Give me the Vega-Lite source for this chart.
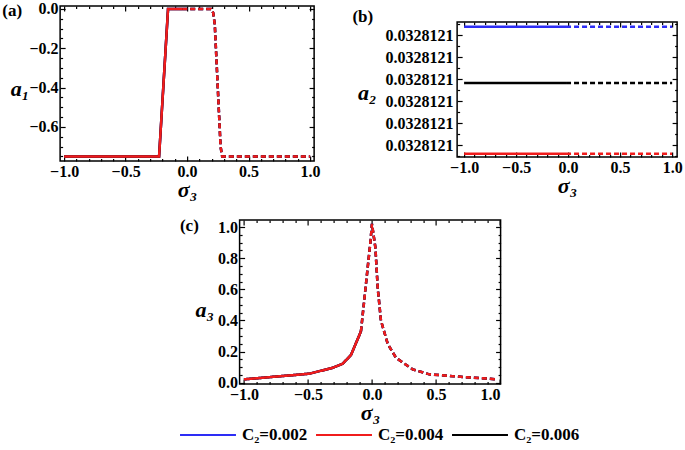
{
  "$schema": "https://vega.github.io/schema/vega-lite/v6.json",
  "padding": {"left": 1, "top": 0, "right": 0, "bottom": 0},
  "background": "white",
  "datasets": {
    "a1": [
      {"C2": "0.002", "s": -1.0, "v": -0.75, "seg": "solid"},
      {"C2": "0.002", "s": -0.228, "v": -0.75, "seg": "solid"},
      {"C2": "0.002", "s": -0.155, "v": 0.0, "seg": "solid"},
      {"C2": "0.002", "s": -0.04, "v": 0.0, "seg": "solid"},
      {"C2": "0.002", "s": -0.04, "v": 0.0, "seg": "dashed"},
      {"C2": "0.002", "s": 0.195, "v": 0.0, "seg": "dashed"},
      {"C2": "0.002", "s": 0.212, "v": -0.02, "seg": "dashed"},
      {"C2": "0.002", "s": 0.225, "v": -0.08, "seg": "dashed"},
      {"C2": "0.002", "s": 0.272, "v": -0.7, "seg": "dashed"},
      {"C2": "0.002", "s": 0.285, "v": -0.75, "seg": "dashed"},
      {"C2": "0.002", "s": 1.0, "v": -0.75, "seg": "dashed"},
      {"C2": "0.006", "s": -1.0, "v": -0.75, "seg": "solid"},
      {"C2": "0.006", "s": -0.228, "v": -0.75, "seg": "solid"},
      {"C2": "0.006", "s": -0.155, "v": 0.0, "seg": "solid"},
      {"C2": "0.006", "s": -0.04, "v": 0.0, "seg": "solid"},
      {"C2": "0.006", "s": -0.04, "v": 0.0, "seg": "dashed"},
      {"C2": "0.006", "s": 0.195, "v": 0.0, "seg": "dashed"},
      {"C2": "0.006", "s": 0.212, "v": -0.02, "seg": "dashed"},
      {"C2": "0.006", "s": 0.225, "v": -0.08, "seg": "dashed"},
      {"C2": "0.006", "s": 0.272, "v": -0.7, "seg": "dashed"},
      {"C2": "0.006", "s": 0.285, "v": -0.75, "seg": "dashed"},
      {"C2": "0.006", "s": 1.0, "v": -0.75, "seg": "dashed"},
      {"C2": "0.004", "s": -1.0, "v": -0.75, "seg": "solid"},
      {"C2": "0.004", "s": -0.228, "v": -0.75, "seg": "solid"},
      {"C2": "0.004", "s": -0.155, "v": 0.0, "seg": "solid"},
      {"C2": "0.004", "s": -0.04, "v": 0.0, "seg": "solid"},
      {"C2": "0.004", "s": -0.04, "v": 0.0, "seg": "dashed"},
      {"C2": "0.004", "s": 0.195, "v": 0.0, "seg": "dashed"},
      {"C2": "0.004", "s": 0.212, "v": -0.02, "seg": "dashed"},
      {"C2": "0.004", "s": 0.225, "v": -0.08, "seg": "dashed"},
      {"C2": "0.004", "s": 0.272, "v": -0.7, "seg": "dashed"},
      {"C2": "0.004", "s": 0.285, "v": -0.75, "seg": "dashed"},
      {"C2": "0.004", "s": 1.0, "v": -0.75, "seg": "dashed"}
    ],
    "a2": [
      {"C2": "0.002", "s": -1.0, "v": 0.03281210638, "seg": "solid"},
      {"C2": "0.002", "s": -0.02, "v": 0.03281210638, "seg": "solid"},
      {"C2": "0.002", "s": -0.02, "v": 0.03281210638, "seg": "dashed"},
      {"C2": "0.002", "s": 1.0, "v": 0.03281210638, "seg": "dashed"},
      {"C2": "0.004", "s": -1.0, "v": 0.03281210062, "seg": "solid"},
      {"C2": "0.004", "s": -0.02, "v": 0.03281210062, "seg": "solid"},
      {"C2": "0.004", "s": -0.02, "v": 0.03281210062, "seg": "dashed"},
      {"C2": "0.004", "s": 1.0, "v": 0.03281210062, "seg": "dashed"},
      {"C2": "0.006", "s": -1.0, "v": 0.03281210383, "seg": "solid"},
      {"C2": "0.006", "s": -0.02, "v": 0.03281210383, "seg": "solid"},
      {"C2": "0.006", "s": -0.02, "v": 0.03281210383, "seg": "dashed"},
      {"C2": "0.006", "s": 1.0, "v": 0.03281210383, "seg": "dashed"}
    ],
    "a3": [
      {"C2": "0.002", "s": -1.0, "v": 0.022, "seg": "solid"},
      {"C2": "0.002", "s": -0.7, "v": 0.043, "seg": "solid"},
      {"C2": "0.002", "s": -0.49, "v": 0.058, "seg": "solid"},
      {"C2": "0.002", "s": -0.307, "v": 0.096, "seg": "solid"},
      {"C2": "0.002", "s": -0.229, "v": 0.122, "seg": "solid"},
      {"C2": "0.002", "s": -0.164, "v": 0.178, "seg": "solid"},
      {"C2": "0.002", "s": -0.086, "v": 0.33, "seg": "solid"},
      {"C2": "0.002", "s": -0.086, "v": 0.33, "seg": "dashed"},
      {"C2": "0.002", "s": -0.01, "v": 0.92, "seg": "dashed"},
      {"C2": "0.002", "s": 0.0, "v": 1.02, "seg": "dashed"},
      {"C2": "0.002", "s": 0.027, "v": 0.867, "seg": "dashed"},
      {"C2": "0.002", "s": 0.045, "v": 0.61, "seg": "dashed"},
      {"C2": "0.002", "s": 0.07, "v": 0.4, "seg": "dashed"},
      {"C2": "0.002", "s": 0.123, "v": 0.25, "seg": "dashed"},
      {"C2": "0.002", "s": 0.188, "v": 0.16, "seg": "dashed"},
      {"C2": "0.002", "s": 0.318, "v": 0.086, "seg": "dashed"},
      {"C2": "0.002", "s": 0.448, "v": 0.054, "seg": "dashed"},
      {"C2": "0.002", "s": 0.709, "v": 0.037, "seg": "dashed"},
      {"C2": "0.002", "s": 0.982, "v": 0.022, "seg": "dashed"},
      {"C2": "0.006", "s": -1.0, "v": 0.022, "seg": "solid"},
      {"C2": "0.006", "s": -0.7, "v": 0.043, "seg": "solid"},
      {"C2": "0.006", "s": -0.49, "v": 0.058, "seg": "solid"},
      {"C2": "0.006", "s": -0.307, "v": 0.096, "seg": "solid"},
      {"C2": "0.006", "s": -0.229, "v": 0.122, "seg": "solid"},
      {"C2": "0.006", "s": -0.164, "v": 0.178, "seg": "solid"},
      {"C2": "0.006", "s": -0.086, "v": 0.33, "seg": "solid"},
      {"C2": "0.006", "s": -0.086, "v": 0.33, "seg": "dashed"},
      {"C2": "0.006", "s": -0.01, "v": 0.92, "seg": "dashed"},
      {"C2": "0.006", "s": 0.0, "v": 1.02, "seg": "dashed"},
      {"C2": "0.006", "s": 0.027, "v": 0.867, "seg": "dashed"},
      {"C2": "0.006", "s": 0.045, "v": 0.61, "seg": "dashed"},
      {"C2": "0.006", "s": 0.07, "v": 0.4, "seg": "dashed"},
      {"C2": "0.006", "s": 0.123, "v": 0.25, "seg": "dashed"},
      {"C2": "0.006", "s": 0.188, "v": 0.16, "seg": "dashed"},
      {"C2": "0.006", "s": 0.318, "v": 0.086, "seg": "dashed"},
      {"C2": "0.006", "s": 0.448, "v": 0.054, "seg": "dashed"},
      {"C2": "0.006", "s": 0.709, "v": 0.037, "seg": "dashed"},
      {"C2": "0.006", "s": 0.982, "v": 0.022, "seg": "dashed"},
      {"C2": "0.004", "s": -1.0, "v": 0.022, "seg": "solid"},
      {"C2": "0.004", "s": -0.7, "v": 0.043, "seg": "solid"},
      {"C2": "0.004", "s": -0.49, "v": 0.058, "seg": "solid"},
      {"C2": "0.004", "s": -0.307, "v": 0.096, "seg": "solid"},
      {"C2": "0.004", "s": -0.229, "v": 0.122, "seg": "solid"},
      {"C2": "0.004", "s": -0.164, "v": 0.178, "seg": "solid"},
      {"C2": "0.004", "s": -0.086, "v": 0.33, "seg": "solid"},
      {"C2": "0.004", "s": -0.086, "v": 0.33, "seg": "dashed"},
      {"C2": "0.004", "s": -0.01, "v": 0.92, "seg": "dashed"},
      {"C2": "0.004", "s": 0.0, "v": 1.02, "seg": "dashed"},
      {"C2": "0.004", "s": 0.027, "v": 0.867, "seg": "dashed"},
      {"C2": "0.004", "s": 0.045, "v": 0.61, "seg": "dashed"},
      {"C2": "0.004", "s": 0.07, "v": 0.4, "seg": "dashed"},
      {"C2": "0.004", "s": 0.123, "v": 0.25, "seg": "dashed"},
      {"C2": "0.004", "s": 0.188, "v": 0.16, "seg": "dashed"},
      {"C2": "0.004", "s": 0.318, "v": 0.086, "seg": "dashed"},
      {"C2": "0.004", "s": 0.448, "v": 0.054, "seg": "dashed"},
      {"C2": "0.004", "s": 0.709, "v": 0.037, "seg": "dashed"},
      {"C2": "0.004", "s": 0.982, "v": 0.022, "seg": "dashed"}
    ]
  },
  "config": {
    "font": "Liberation Serif",
    "view": {"stroke": "black", "strokeWidth": 1.5},
    "axis": {
      "domain": false, "grid": false, "ticks": true, "tickColor": "black", "tickWidth": 1.2, "tickSize": 5, "offset": -5, "labelOverlap": false, "zindex": 1,
      "labelFont": "Liberation Serif", "labelFontWeight": "bold", "labelFontSize": 16, "labelColor": "black",
      "titleFont": "Liberation Serif", "titleFontWeight": "bold", "titleFontStyle": "italic", "titleFontSize": 22, "titleColor": "black"
    },
    "axisY": {"titleAngle": 0, "titleAlign": "right", "titleBaseline": "middle", "labelPadding": 2},
    "axisX": {"labelPadding": 2, "titlePadding": 0},
    "title": {"font": "Liberation Serif", "fontSize": 17, "fontWeight": "bold", "anchor": "start", "frame": "bounds", "color": "black"}
  },
  "spacing": 15,
  "center": true,
  "vconcat": [
    {
      "spacing": 30,
      "hconcat": [
        {
          "title": {"text": "(a)", "dx": -8, "offset": -19},
          "width": 254, "height": 155,
          "data": {"name": "a1"},
          "resolve": {"axis": {"x": "independent", "y": "independent"}},
          "layer": [
            {
              "mark": {"type": "line", "strokeWidth": 2.5},
              "encoding": {
                "x": {"field": "s", "type": "quantitative", "scale": {"domain": [-1.0325, 1.0325], "nice": false, "zero": false},
                  "axis": {"orient": "bottom", "values": [-1, -0.5, 0, 0.5, 1], "format": ".1f", "title": "σ₃"}},
                "y": {"field": "v", "type": "quantitative", "scale": {"domain": [-0.773, 0.015], "nice": false, "zero": false},
                  "axis": {"orient": "left", "values": [0, -0.2, -0.4, -0.6], "format": ".1f", "title": "a₁", "titlePadding": 0, "titleY": 82}},
                "color": {"field": "C2", "type": "nominal", "scale": {"domain": ["0.002", "0.004", "0.006"], "range": ["#2d2df5", "#f01c1c", "#000000"]},
                  "legend": {"orient": "none", "legendX": 119, "legendY": 400, "direction": "horizontal", "title": null, "symbolType": "stroke", "symbolSize": 3130, "symbolStrokeWidth": 2, "labelExpr": "'C₂=' + datum.label", "labelFontSize": 17, "labelFontWeight": "bold", "labelFont": "Liberation Serif", "labelColor": "black", "columnPadding": 4, "labelOffset": 5}},
                "strokeDash": {"field": "seg", "type": "nominal", "scale": {"domain": ["solid", "dashed"], "range": [[1, 0], [5, 3]]}, "legend": null}
              }
            },
            {
              "mark": {"type": "point", "opacity": 0},
              "encoding": {
                "x": {"field": "s", "type": "quantitative", "scale": {"domain": [-1.0325, 1.0325], "nice": false, "zero": false},
                  "axis": {"orient": "top", "labels": false, "title": null, "values": [-1, -0.5, 0, 0.5, 1]}},
                "y": {"field": "v", "type": "quantitative", "scale": {"domain": [-0.773, 0.015], "nice": false, "zero": false},
                  "axis": {"orient": "right", "labels": false, "title": null, "values": [0, -0.2, -0.4, -0.6]}}
              }
            },
            {
              "mark": {"type": "point", "opacity": 0},
              "encoding": {
                "x": {"field": "s", "type": "quantitative", "scale": {"domain": [-1.0325, 1.0325], "nice": false, "zero": false},
                  "axis": {"orient": "bottom", "labels": false, "title": null, "offset": -2.5, "tickSize": 2.5, "values": [-0.9, -0.8, -0.7, -0.6, -0.4, -0.3, -0.2, -0.1, 0.1, 0.2, 0.3, 0.4, 0.6, 0.7, 0.8, 0.9]}},
                "y": {"field": "v", "type": "quantitative", "scale": {"domain": [-0.773, 0.015], "nice": false, "zero": false},
                  "axis": {"orient": "left", "labels": false, "title": null, "offset": -2.5, "tickSize": 2.5, "values": [-0.05, -0.1, -0.15, -0.25, -0.3, -0.35, -0.45, -0.5, -0.55, -0.65, -0.7, -0.75]}}
              }
            },
            {
              "mark": {"type": "point", "opacity": 0},
              "encoding": {
                "x": {"field": "s", "type": "quantitative", "scale": {"domain": [-1.0325, 1.0325], "nice": false, "zero": false},
                  "axis": {"orient": "top", "labels": false, "title": null, "offset": -2.5, "tickSize": 2.5, "values": [-0.9, -0.8, -0.7, -0.6, -0.4, -0.3, -0.2, -0.1, 0.1, 0.2, 0.3, 0.4, 0.6, 0.7, 0.8, 0.9]}},
                "y": {"field": "v", "type": "quantitative", "scale": {"domain": [-0.773, 0.015], "nice": false, "zero": false},
                  "axis": {"orient": "right", "labels": false, "title": null, "offset": -2.5, "tickSize": 2.5, "values": [-0.05, -0.1, -0.15, -0.25, -0.3, -0.35, -0.45, -0.5, -0.55, -0.65, -0.7, -0.75]}}
              }
            }
          ]
        },
        {
          "spacing": 0,
          "vconcat": [
            {
              "width": 220, "height": 1,
              "view": {"stroke": null},
              "data": {"values": [{"s": 0}]},
              "mark": {"type": "point", "opacity": 0, "size": 1},
              "encoding": {}
            },
            {
              "title": {"text": "(b)", "dx": -5, "offset": -5},
              "width": 220, "height": 135,
              "data": {"name": "a2"},
              "resolve": {"axis": {"x": "independent", "y": "independent"}},
              "layer": [
                {
                  "mark": {"type": "line", "strokeWidth": 2.5},
                  "encoding": {
                    "x": {"field": "s", "type": "quantitative", "scale": {"domain": [-1.067, 1.048], "nice": false, "zero": false},
                      "axis": {"orient": "bottom", "values": [-1, -0.5, 0, 0.5, 1], "format": ".1f", "title": "σ₃"}},
                    "y": {"field": "v", "type": "quantitative", "scale": {"domain": [0.03281210047, 0.0328121066], "nice": false, "zero": false},
                      "axis": {"orient": "left", "values": [0.032812101, 0.032812102, 0.032812103, 0.032812104, 0.032812105, 0.032812106], "labelExpr": "'0.0328121'", "labelPadding": 4,
                        "title": "a₂", "titlePadding": 9, "titleY": 70}},
                    "color": {"field": "C2", "type": "nominal", "scale": {"domain": ["0.002", "0.004", "0.006"], "range": ["#2d2df5", "#f01c1c", "#000000"]},
                      "legend": {"orient": "none", "legendX": 119, "legendY": 400, "direction": "horizontal", "title": null, "symbolType": "stroke", "symbolSize": 3130, "symbolStrokeWidth": 2, "labelExpr": "'C₂=' + datum.label", "labelFontSize": 17, "labelFontWeight": "bold", "labelFont": "Liberation Serif", "labelColor": "black", "columnPadding": 4, "labelOffset": 5}},
                    "strokeDash": {"field": "seg", "type": "nominal", "scale": {"domain": ["solid", "dashed"], "range": [[1, 0], [5, 3]]}, "legend": null}
                  }
                },
                {
                  "mark": {"type": "point", "opacity": 0},
                  "encoding": {
                    "x": {"field": "s", "type": "quantitative", "scale": {"domain": [-1.067, 1.048], "nice": false, "zero": false},
                      "axis": {"orient": "top", "labels": false, "title": null, "values": [-1, -0.5, 0, 0.5, 1]}},
                    "y": {"field": "v", "type": "quantitative", "scale": {"domain": [0.03281210047, 0.0328121066], "nice": false, "zero": false},
                      "axis": {"orient": "right", "labels": false, "title": null, "values": [0.032812101, 0.032812102, 0.032812103, 0.032812104, 0.032812105, 0.032812106]}}
                  }
                },
                {
                  "mark": {"type": "point", "opacity": 0},
                  "encoding": {
                    "x": {"field": "s", "type": "quantitative", "scale": {"domain": [-1.067, 1.048], "nice": false, "zero": false},
                      "axis": {"orient": "bottom", "labels": false, "title": null, "offset": -2.5, "tickSize": 2.5, "values": [-0.9, -0.8, -0.7, -0.6, -0.4, -0.3, -0.2, -0.1, 0.1, 0.2, 0.3, 0.4, 0.6, 0.7, 0.8, 0.9]}},
                    "y": {"field": "v", "type": "quantitative", "scale": {"domain": [0.03281210047, 0.0328121066], "nice": false, "zero": false},
                      "axis": {"orient": "left", "labels": false, "title": null, "offset": -2.5, "tickSize": 2.5, "values": [0.0328121005, 0.0328121015, 0.0328121025, 0.0328121035, 0.0328121045, 0.0328121055, 0.0328121065]}}
                  }
                },
                {
                  "mark": {"type": "point", "opacity": 0},
                  "encoding": {
                    "x": {"field": "s", "type": "quantitative", "scale": {"domain": [-1.067, 1.048], "nice": false, "zero": false},
                      "axis": {"orient": "top", "labels": false, "title": null, "offset": -2.5, "tickSize": 2.5, "values": [-0.9, -0.8, -0.7, -0.6, -0.4, -0.3, -0.2, -0.1, 0.1, 0.2, 0.3, 0.4, 0.6, 0.7, 0.8, 0.9]}},
                    "y": {"field": "v", "type": "quantitative", "scale": {"domain": [0.03281210047, 0.0328121066], "nice": false, "zero": false},
                      "axis": {"orient": "right", "labels": false, "title": null, "offset": -2.5, "tickSize": 2.5, "values": [0.0328121005, 0.0328121015, 0.0328121025, 0.0328121035, 0.0328121045, 0.0328121055, 0.0328121065]}}
                  }
                }
              ]
            }
          ]
        }
      ]
    },
    {
      "title": {"text": "(c)", "dx": -15, "offset": -16},
      "width": 261, "height": 164,
      "data": {"name": "a3"},
      "resolve": {"axis": {"x": "independent", "y": "independent"}},
      "layer": [
        {
          "mark": {"type": "line", "strokeWidth": 2.5},
          "encoding": {
            "x": {"field": "s", "type": "quantitative", "scale": {"domain": [-1.034, 1.005], "nice": false, "zero": false},
              "axis": {"orient": "bottom", "values": [-1, -0.5, 0, 0.5, 1], "format": ".1f", "title": "σ₃"}},
            "y": {"field": "v", "type": "quantitative", "scale": {"domain": [-0.008, 1.045], "nice": false, "zero": false},
              "axis": {"orient": "left", "values": [0, 0.2, 0.4, 0.6, 0.8, 1.0], "format": ".1f", "title": "a₃", "titlePadding": 4, "titleY": 89}},
            "color": {"field": "C2", "type": "nominal", "scale": {"domain": ["0.002", "0.004", "0.006"], "range": ["#2d2df5", "#f01c1c", "#000000"]},
              "legend": {"orient": "none", "legendX": 119, "legendY": 400, "direction": "horizontal", "title": null, "symbolType": "stroke", "symbolSize": 3130, "symbolStrokeWidth": 2, "labelExpr": "'C₂=' + datum.label", "labelFontSize": 17, "labelFontWeight": "bold", "labelFont": "Liberation Serif", "labelColor": "black", "columnPadding": 4, "labelOffset": 5}},
            "strokeDash": {"field": "seg", "type": "nominal", "scale": {"domain": ["solid", "dashed"], "range": [[1, 0], [5, 3]]}, "legend": null}
          }
        },
        {
          "mark": {"type": "point", "opacity": 0},
          "encoding": {
            "x": {"field": "s", "type": "quantitative", "scale": {"domain": [-1.034, 1.005], "nice": false, "zero": false},
              "axis": {"orient": "top", "labels": false, "title": null, "values": [-1, -0.5, 0, 0.5, 1]}},
            "y": {"field": "v", "type": "quantitative", "scale": {"domain": [-0.008, 1.045], "nice": false, "zero": false},
              "axis": {"orient": "right", "labels": false, "title": null, "values": [0, 0.2, 0.4, 0.6, 0.8, 1.0]}}
          }
        },
        {
          "mark": {"type": "point", "opacity": 0},
          "encoding": {
            "x": {"field": "s", "type": "quantitative", "scale": {"domain": [-1.034, 1.005], "nice": false, "zero": false},
              "axis": {"orient": "bottom", "labels": false, "title": null, "offset": -2.5, "tickSize": 2.5, "values": [-0.9, -0.8, -0.7, -0.6, -0.4, -0.3, -0.2, -0.1, 0.1, 0.2, 0.3, 0.4, 0.6, 0.7, 0.8, 0.9]}},
            "y": {"field": "v", "type": "quantitative", "scale": {"domain": [-0.008, 1.045], "nice": false, "zero": false},
              "axis": {"orient": "left", "labels": false, "title": null, "offset": -2.5, "tickSize": 2.5, "values": [0.05, 0.1, 0.15, 0.25, 0.3, 0.35, 0.45, 0.5, 0.55, 0.65, 0.7, 0.75, 0.85, 0.9, 0.95]}}
          }
        },
        {
          "mark": {"type": "point", "opacity": 0},
          "encoding": {
            "x": {"field": "s", "type": "quantitative", "scale": {"domain": [-1.034, 1.005], "nice": false, "zero": false},
              "axis": {"orient": "top", "labels": false, "title": null, "offset": -2.5, "tickSize": 2.5, "values": [-0.9, -0.8, -0.7, -0.6, -0.4, -0.3, -0.2, -0.1, 0.1, 0.2, 0.3, 0.4, 0.6, 0.7, 0.8, 0.9]}},
            "y": {"field": "v", "type": "quantitative", "scale": {"domain": [-0.008, 1.045], "nice": false, "zero": false},
              "axis": {"orient": "right", "labels": false, "title": null, "offset": -2.5, "tickSize": 2.5, "values": [0.05, 0.1, 0.15, 0.25, 0.3, 0.35, 0.45, 0.5, 0.55, 0.65, 0.7, 0.75, 0.85, 0.9, 0.95]}}
          }
        }
      ]
    }
  ]
}
